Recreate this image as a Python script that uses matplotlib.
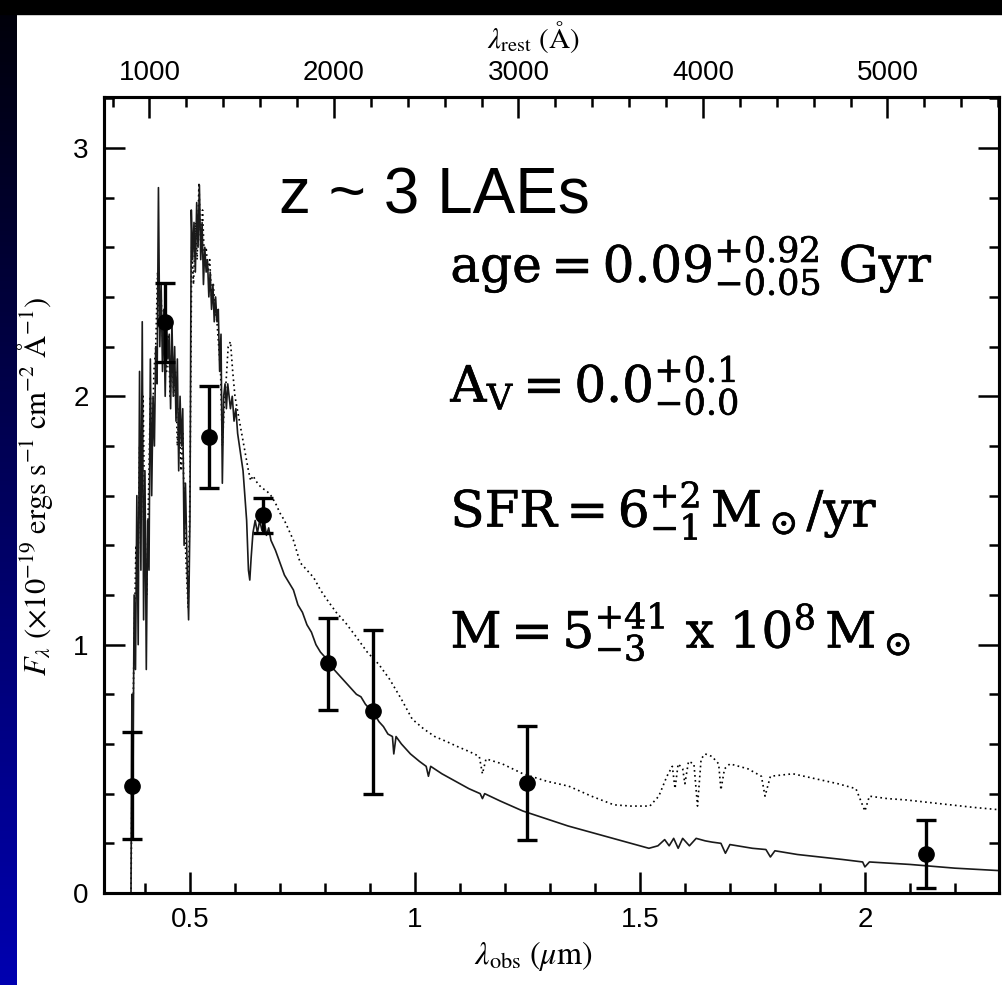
import numpy as np
import matplotlib
matplotlib.use('Agg')
import matplotlib.pyplot as plt
import matplotlib.patheffects as pe
from matplotlib.patches import Rectangle
from matplotlib.colors import LinearSegmentedColormap
from matplotlib.ticker import MultipleLocator

# photometry: observed wavelength (micron), flux, error-bar ends (1e-19 cgs)
phot_lam = [0.371, 0.444, 0.542, 0.662, 0.806, 0.906, 1.249, 2.136]
phot_flux = [0.43, 2.30, 1.835, 1.52, 0.926, 0.733, 0.443, 0.157]
phot_lo = [0.217, 2.14, 1.63, 1.45, 0.737, 0.40, 0.213, 0.02]
phot_hi = [0.648, 2.457, 2.04, 1.59, 1.107, 1.06, 0.672, 0.294]

# best-fit young model (solid)
young_lam = [0.300, 0.369, 0.371, 0.373, 0.376, 0.379, 0.382, 0.385, 0.388, 0.391,
             0.394, 0.397, 0.400, 0.403, 0.406, 0.409, 0.412, 0.415, 0.418, 0.421,
             0.424, 0.427, 0.430, 0.433, 0.436, 0.439, 0.442, 0.445, 0.448, 0.451,
             0.454, 0.457, 0.460, 0.463, 0.466, 0.469, 0.472, 0.475, 0.478, 0.481,
             0.484, 0.487, 0.490, 0.494, 0.497, 0.500, 0.503, 0.506, 0.509, 0.512,
             0.515, 0.518, 0.521, 0.524, 0.527, 0.530, 0.533, 0.536, 0.539, 0.542,
             0.545, 0.548, 0.551, 0.554, 0.557, 0.560, 0.563, 0.566, 0.569, 0.572,
             0.575, 0.578, 0.581, 0.584, 0.587, 0.590, 0.594, 0.598, 0.602, 0.606,
             0.610, 0.614, 0.618, 0.622, 0.626, 0.630, 0.633, 0.636, 0.640, 0.645,
             0.650, 0.655, 0.660, 0.665, 0.670, 0.675, 0.680, 0.690, 0.700, 0.710,
             0.720, 0.730, 0.740, 0.750, 0.760, 0.770, 0.780, 0.790, 0.800, 0.810,
             0.820, 0.830, 0.840, 0.850, 0.860, 0.870, 0.880, 0.890, 0.900, 0.910,
             0.920, 0.930, 0.940, 0.950, 0.953, 0.958, 0.970, 0.990, 1.010, 1.025,
             1.030, 1.035, 1.060, 1.090, 1.120, 1.145, 1.150, 1.155, 1.190, 1.240,
             1.290, 1.340, 1.390, 1.440, 1.490, 1.520, 1.540, 1.555, 1.565, 1.575,
             1.585, 1.595, 1.610, 1.625, 1.645, 1.660, 1.680, 1.690, 1.700, 1.750,
             1.780, 1.790, 1.800, 1.850, 1.900, 1.950, 1.995, 2.000, 2.010, 2.100,
             2.200, 2.300]
young_flux = [0.0, 0.0, 0.80, 0.30, 1.20, 0.90, 1.60, 1.00, 2.10, 1.30,
              2.30, 1.10, 1.70, 0.90, 1.50, 1.30, 2.15, 1.60, 2.00, 1.80,
              2.20, 2.05, 2.84, 2.20, 2.45, 2.10, 2.35, 2.00, 2.30, 2.15,
              2.25, 1.95, 2.30, 2.00, 2.20, 1.90, 2.15, 1.70, 2.00, 1.80,
              1.95, 1.40, 1.65, 1.30, 1.10, 1.50, 2.75, 2.55, 2.70, 2.50,
              2.78, 2.60, 2.85, 2.55, 2.70, 2.45, 2.60, 2.50, 2.55, 2.40,
              2.50, 2.35, 2.45, 2.30, 2.40, 2.30, 2.35, 2.10, 2.25, 1.65,
              2.00, 2.05, 1.95, 2.05, 2.00, 1.95, 2.00, 1.90, 1.95, 1.85,
              1.80, 1.75, 1.70, 1.60, 1.50, 1.30, 1.26, 1.35, 1.45, 1.50,
              1.45, 1.50, 1.46, 1.50, 1.44, 1.47, 1.42, 1.38, 1.33, 1.28,
              1.25, 1.22, 1.16, 1.13, 1.08, 1.05, 1.00, 0.97, 0.95, 0.92,
              0.90, 0.88, 0.86, 0.84, 0.82, 0.80, 0.79, 0.76, 0.74, 0.72,
              0.69, 0.67, 0.64, 0.63, 0.56, 0.63, 0.60, 0.56, 0.53, 0.51,
              0.47, 0.51, 0.48, 0.45, 0.42, 0.40, 0.38, 0.40, 0.37, 0.33,
              0.30, 0.27, 0.245, 0.22, 0.195, 0.18, 0.19, 0.215, 0.19, 0.22,
              0.18, 0.22, 0.19, 0.22, 0.21, 0.205, 0.20, 0.16, 0.195, 0.18,
              0.175, 0.145, 0.17, 0.155, 0.145, 0.135, 0.125, 0.105, 0.125, 0.115,
              0.10, 0.09]

# older model (dotted)
old_lam = [0.300, 0.369, 0.372, 0.376, 0.380, 0.384, 0.388, 0.392, 0.396, 0.400,
           0.404, 0.408, 0.412, 0.416, 0.420, 0.424, 0.428, 0.432, 0.436, 0.440,
           0.444, 0.448, 0.452, 0.456, 0.460, 0.464, 0.468, 0.472, 0.476, 0.480,
           0.484, 0.488, 0.492, 0.496, 0.500, 0.504, 0.508, 0.512, 0.516, 0.520,
           0.524, 0.528, 0.532, 0.536, 0.540, 0.544, 0.548, 0.552, 0.556, 0.560,
           0.564, 0.568, 0.572, 0.576, 0.580, 0.585, 0.590, 0.595, 0.600, 0.605,
           0.610, 0.615, 0.620, 0.625, 0.630, 0.635, 0.640, 0.650, 0.660, 0.670,
           0.680, 0.690, 0.700, 0.710, 0.720, 0.730, 0.745, 0.760, 0.775, 0.790,
           0.805, 0.825, 0.845, 0.870, 0.894, 0.920, 0.944, 0.970, 0.994, 1.020,
           1.044, 1.070, 1.094, 1.120, 1.143, 1.150, 1.158, 1.194, 1.240, 1.293,
           1.342, 1.392, 1.442, 1.480, 1.522, 1.542, 1.560, 1.572, 1.578, 1.585,
           1.595, 1.600, 1.608, 1.620, 1.628, 1.636, 1.645, 1.660, 1.675, 1.680,
           1.688, 1.700, 1.720, 1.740, 1.770, 1.778, 1.790, 1.840, 1.890, 1.940,
           1.980, 2.000, 2.010, 2.050, 2.090, 2.140, 2.190, 2.240, 2.300]
old_flux = [0.0, 0.0, 0.60, 1.00, 1.40, 1.20, 1.80, 1.50, 2.00, 1.40,
            1.20, 1.60, 2.00, 1.80, 2.10, 2.20, 2.50, 2.30, 2.40, 2.20,
            2.35, 2.10, 2.25, 2.00, 2.20, 2.00, 2.10, 1.80, 1.95, 1.70,
            1.85, 1.50, 1.30, 1.15, 1.60, 2.60, 2.45, 2.70, 2.55, 2.86,
            2.60, 2.75, 2.55, 2.60, 2.50, 2.55, 2.40, 2.45, 2.35, 2.30,
            2.20, 2.10, 1.80, 1.95, 2.05, 2.20, 2.22, 2.10, 2.00, 1.95,
            1.90, 1.85, 1.80, 1.75, 1.70, 1.66, 1.68, 1.65, 1.63, 1.62,
            1.60, 1.57, 1.53, 1.50, 1.46, 1.42, 1.33, 1.30, 1.27, 1.22,
            1.18, 1.13, 1.09, 1.03, 0.97, 0.92, 0.86, 0.78, 0.70, 0.66,
            0.63, 0.61, 0.59, 0.57, 0.55, 0.48, 0.54, 0.52, 0.48, 0.45,
            0.43, 0.39, 0.355, 0.35, 0.35, 0.39, 0.47, 0.51, 0.42, 0.52,
            0.50, 0.44, 0.53, 0.52, 0.35, 0.54, 0.56, 0.55, 0.52, 0.415,
            0.50, 0.52, 0.51, 0.50, 0.47, 0.39, 0.47, 0.48, 0.46, 0.44,
            0.42, 0.33, 0.39, 0.38, 0.375, 0.365, 0.355, 0.345, 0.335]

one_plus_z = 4.1
rest_major = [1000, 2000, 3000, 4000, 5000]

plt.rcParams['font.family'] = ['Liberation Sans', 'DejaVu Sans']
plt.rcParams['mathtext.fontset'] = 'stix'

fig = plt.figure(figsize=(10.03, 9.85), dpi=100)
fig.patch.set_facecolor('white')

# frame decorations (slide background)
strip = fig.add_axes([0, 0, 17 / 1003, 1])
strip.imshow(np.linspace(0, 1, 256)[:, None], aspect='auto',
             cmap=LinearSegmentedColormap.from_list('bg', ['#000008', '#0000b0']))
strip.axis('off')
fig.add_artist(Rectangle((0, 1 - 14 / 985), 1, 14 / 985, transform=fig.transFigure,
                         color='black', zorder=10))

ax = fig.add_axes([104 / 1003, 92 / 985, 895 / 1003, 796 / 985])
xmin, xmax = 0.309, 2.298
ax.set_xlim(xmin, xmax)
ax.set_ylim(0, 3.205)

ax.plot(old_lam, old_flux, color='black', lw=1.2, ls=(0, (1, 2)))
ax.plot(young_lam, young_flux, color='#1a1a1a', lw=1.2)

lam = np.array(phot_lam)
flux = np.array(phot_flux)
yerr = [flux - np.array(phot_lo), np.array(phot_hi) - flux]
ax.errorbar(lam, flux, yerr=yerr, fmt='o', color='black', ms=11, elinewidth=2.4,
            capsize=7, capthick=2.4, zorder=5)

ax.xaxis.set_minor_locator(MultipleLocator(0.1))
ax.yaxis.set_minor_locator(MultipleLocator(0.2))
ax.set_xticks([0.5, 1.0, 1.5, 2.0])
ax.set_xticklabels(['0.5', '1', '1.5', '2'])
ax.set_yticks([0, 1, 2, 3])
ax.set_yticklabels(['0', '1', '2', '3'])
ax.tick_params(which='both', direction='in', top=False, right=True, width=1.8,
               labelsize=20)
ax.tick_params(which='major', length=15)
ax.tick_params(which='minor', length=7.5)
ax.tick_params(axis='y', pad=11)
ax.tick_params(axis='x', pad=10)
for sp in ax.spines.values():
    sp.set_linewidth(2.2)

# rest-frame axis on top
ax2 = ax.twiny()
ax2.set_xlim(xmin * 1e4 / one_plus_z, xmax * 1e4 / one_plus_z)
ax2.set_xticks(rest_major)
ax2.set_xticklabels([str(v) for v in rest_major])
ax2.xaxis.set_minor_locator(MultipleLocator(200))
ax2.tick_params(which='both', direction='in', width=1.8, labelsize=20, pad=8)
ax2.tick_params(which='major', length=15)
ax2.tick_params(which='minor', length=7.5)
for sp in ax2.spines.values():
    sp.set_linewidth(2.2)

ax.set_xlabel(r'$\lambda_{\rm obs}\ (\mu{\rm m})$', fontsize=23)
ax.xaxis.set_label_coords(0.48, -0.058)
ax2.set_xlabel(r'$\lambda_{\rm rest}\ ({\rm Å})$', fontsize=21)
ax2.xaxis.set_label_coords(0.48, 1.062)
ax.set_ylabel(r'$F_\lambda\ (\times10^{-19}\ {\rm ergs\ s^{-1}\ cm^{-2}\ Å^{-1}})$',
              fontsize=22)
ax.yaxis.set_label_coords(-0.055, 0.51)

ax.text(0.195, 0.854, 'z ~ 3 LAEs', transform=ax.transAxes, fontsize=46,
        va='baseline', ha='left')

ann = [r'$\mathrm{age} = 0.09^{+0.92}_{-0.05}\ \mathrm{Gyr}$',
       r'$\mathrm{A}_\mathrm{V} = 0.0^{+0.1}_{-0.0}$',
       r'$\mathrm{SFR} = 6^{+2}_{-1}\,\mathrm{M}_\odot/\mathrm{yr}$',
       r'$\mathrm{M} = 5^{+41}_{-3}\ \mathrm{x}\ 10^8\,\mathrm{M}_\odot$']
ann_y = [0.7676, 0.617, 0.46, 0.308]
for s, yy in zip(ann, ann_y):
    ax.text(0.387, yy, s, transform=ax.transAxes, fontsize=36, va='baseline',
            ha='left', math_fontfamily='dejavuserif',
            path_effects=[pe.withStroke(linewidth=0.45, foreground='black')])

fig.savefig('out.png', dpi=100, facecolor='white')
